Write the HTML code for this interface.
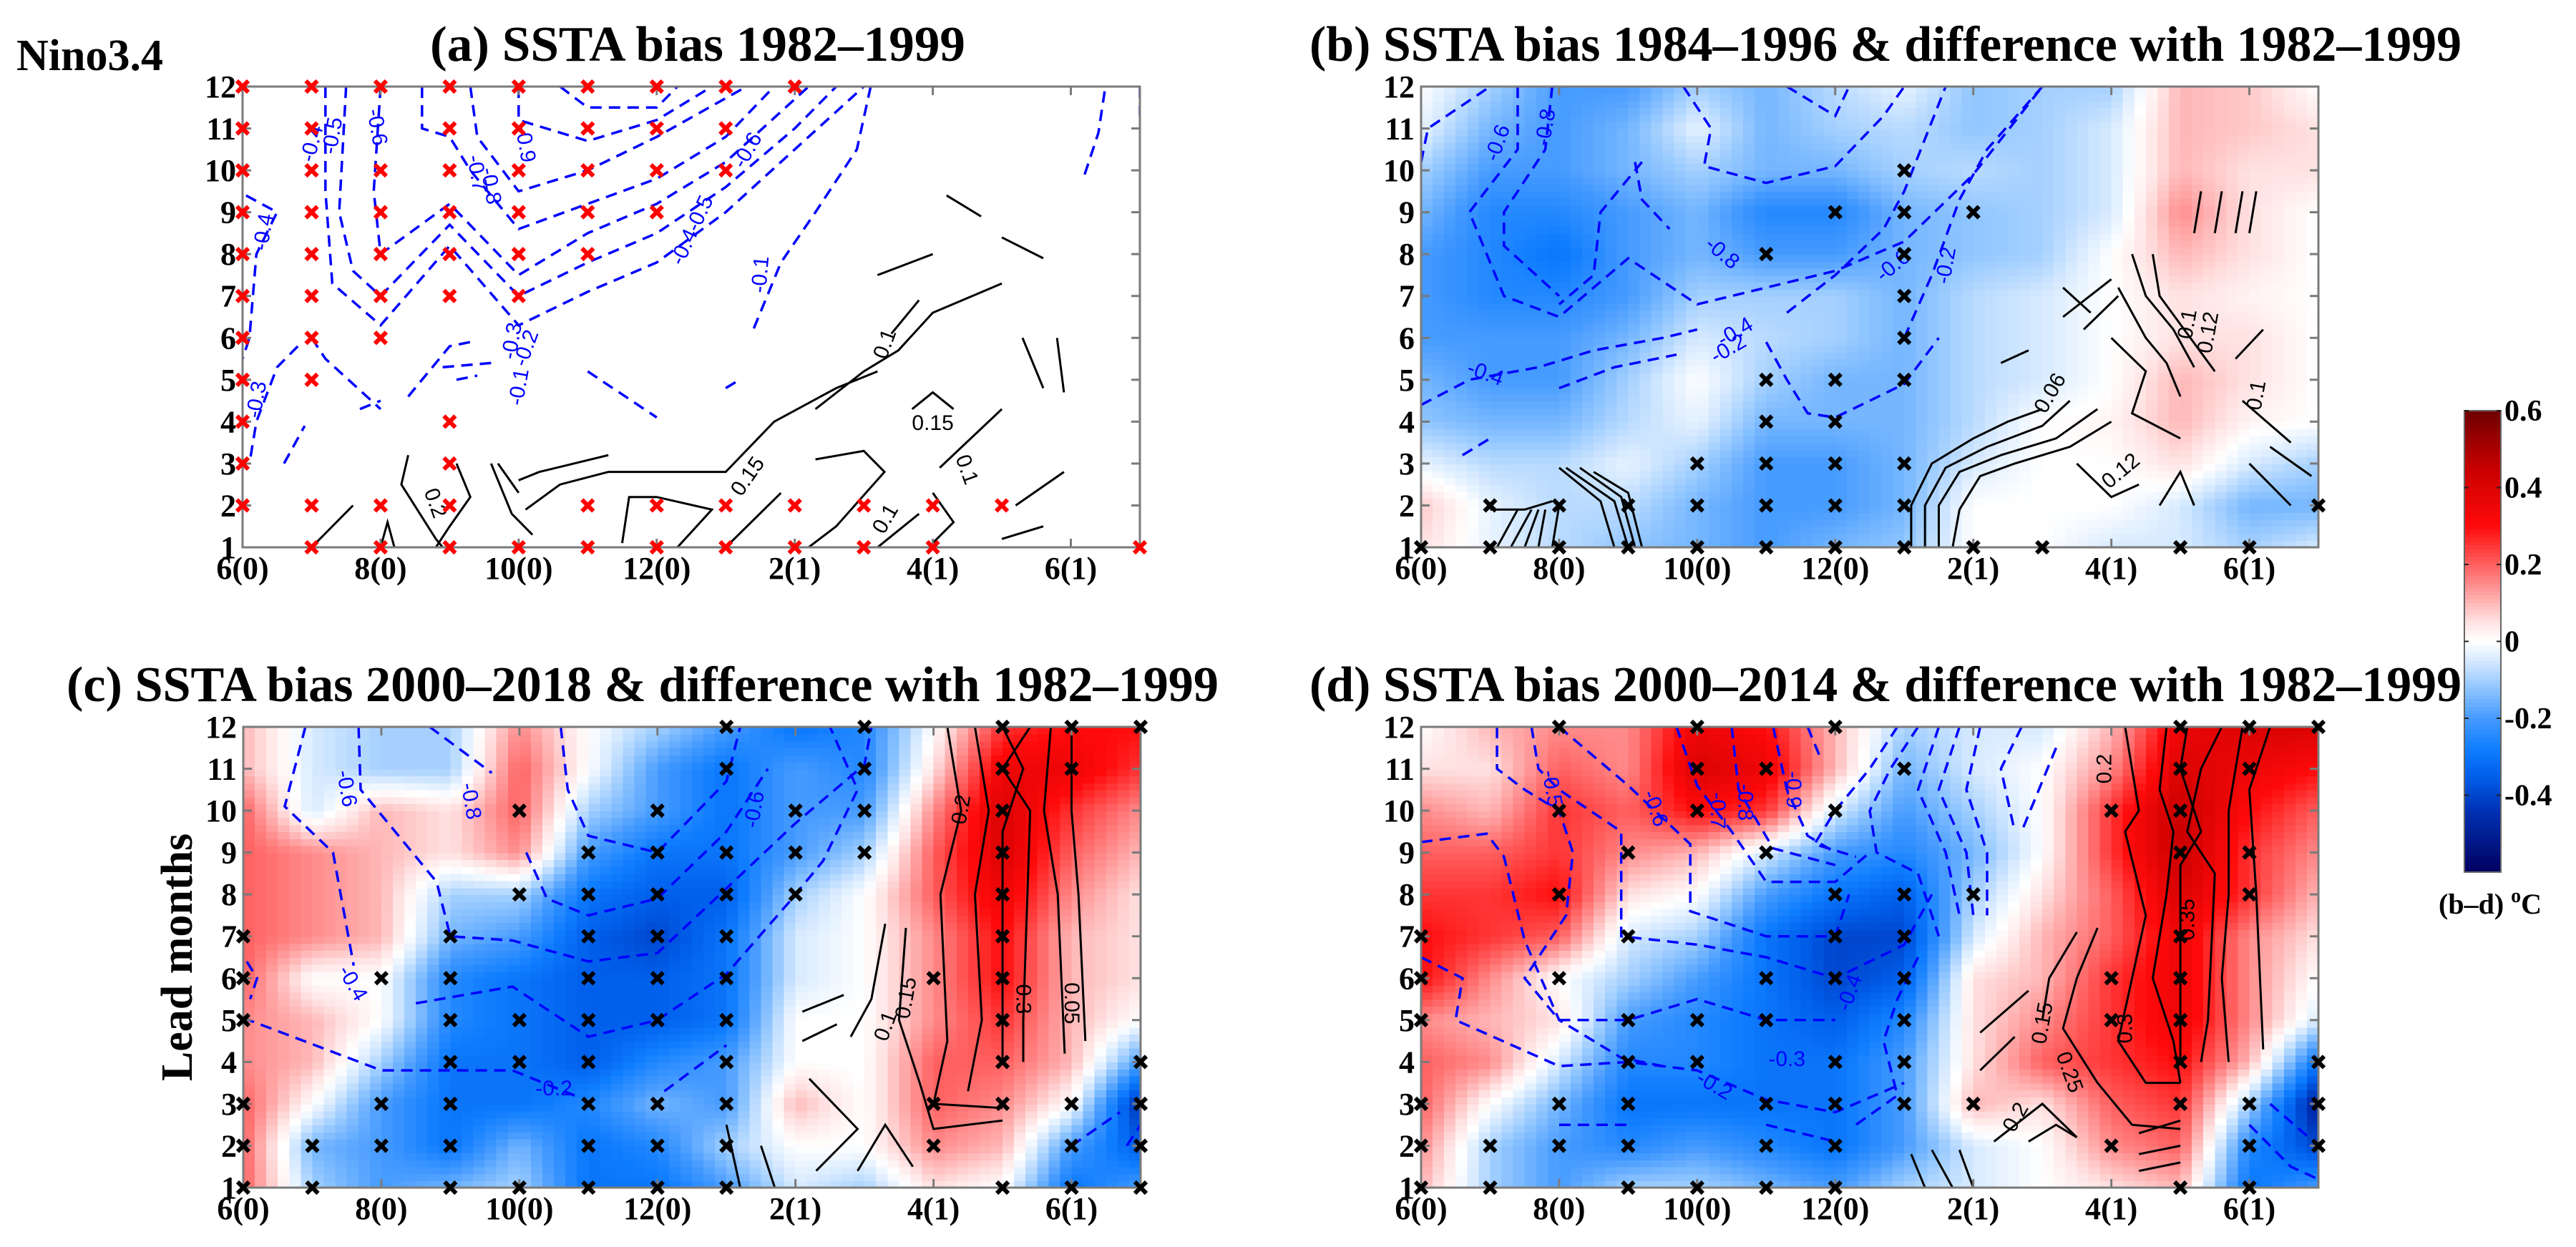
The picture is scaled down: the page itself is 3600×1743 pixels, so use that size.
<!DOCTYPE html>
<html>
<head>
<meta charset="utf-8">
<style>
  html,body{margin:0;padding:0;background:#fff;}
  svg{display:block;}
  text{font-family:"Liberation Serif","DejaVu Serif",serif;font-weight:bold;fill:#000;}
</style>
</head>
<body>
<svg id="fig" xmlns="http://www.w3.org/2000/svg" width="3600" height="1743" viewBox="0 0 3600 1743">
  <rect x="0" y="0" width="3600" height="1743" fill="#fff"/>
  <text x="23" y="98" font-size="62">Nino3.4</text>
  <text x="601" y="85" font-size="70" textLength="748" lengthAdjust="spacingAndGlyphs">(a) SSTA bias 1982–1999</text>
  <text x="1830" y="85" font-size="70" textLength="1610" lengthAdjust="spacingAndGlyphs">(b) SSTA bias 1984–1996 &amp; difference with 1982–1999</text>
  <text x="93" y="980" font-size="70" textLength="1610" lengthAdjust="spacingAndGlyphs">(c) SSTA bias 2000–2018 &amp; difference with 1982–1999</text>
  <text x="1830" y="980" font-size="70" textLength="1610" lengthAdjust="spacingAndGlyphs">(d) SSTA bias 2000–2014 &amp; difference with 1982–1999</text>
  <text transform="translate(268,1338) rotate(-90)" text-anchor="middle" font-size="62">Lead months</text>
  <g id="panels"></g>
  <g id="colorbar"></g>
</svg>
<script>
// ---------- data ----------
const monthCategories = ['6(0)','7(0)','8(0)','9(0)','10(0)','11(0)','12(0)','1(1)','2(1)','3(1)','4(1)','5(1)','6(1)','7(1)'];
const xTickLabels = ['6(0)','8(0)','10(0)','12(0)','2(1)','4(1)','6(1)'];
const xTickCols = [0,2,4,6,8,10,12];
const leadCategories = [1,2,3,4,5,6,7,8,9,10,11,12];
const cbarTicks = [0.6,0.4,0.2,0,-0.2,-0.4];
const cbarTickLabels = ['0.6','0.4','0.2','0','-0.2','-0.4'];

// shading grids: one array per month column, values for lead 1..12
const diffB = [
[0.05,0.08,-0.03,-0.12,-0.15,-0.2,-0.2,-0.2,-0.15,-0.1,-0.03,0],
[-0.03,-0.03,-0.08,-0.15,-0.2,-0.2,-0.25,-0.25,-0.25,-0.2,-0.15,-0.1],
[-0.08,-0.08,-0.08,-0.15,-0.2,-0.2,-0.25,-0.3,-0.25,-0.2,-0.2,-0.2],
[-0.12,-0.08,-0.03,-0.08,-0.1,-0.15,-0.2,-0.2,-0.2,-0.15,-0.15,-0.2],
[-0.15,-0.15,-0.1,-0.03,0,-0.05,-0.1,-0.15,-0.15,-0.1,-0.03,-0.1],
[-0.2,-0.2,-0.2,-0.15,-0.1,-0.08,-0.1,-0.2,-0.25,-0.15,-0.15,-0.15],
[-0.15,-0.2,-0.2,-0.15,-0.15,-0.1,-0.1,-0.2,-0.25,-0.15,-0.1,-0.08],
[-0.12,-0.15,-0.15,-0.15,-0.15,-0.15,-0.15,-0.15,-0.15,-0.1,-0.08,-0.03],
[0,0,-0.05,-0.08,-0.08,-0.08,-0.08,-0.12,-0.12,-0.08,-0.12,-0.12],
[0,0,0,0,-0.05,-0.05,-0.05,-0.1,-0.1,-0.1,-0.1,-0.1],
[-0.05,0,0,0.02,0,0,0,0,-0.05,-0.05,-0.05,-0.1],
[-0.05,-0.05,0.05,0.1,0.1,0.05,0.05,0.1,0.15,0.1,0.1,0.1],
[-0.1,-0.15,-0.05,0.02,0.05,0.05,0.02,0.05,0.05,0.05,0.08,0.08],
[-0.05,-0.15,-0.1,0,0,0,0,0,0,0.05,0.05,0]
];
const diffC = [
[0.2,0.2,0.2,0.15,0.15,0.2,0.2,0.2,0.2,0.2,0.1,0.1],
[-0.1,-0.15,0,0.1,0.1,0,0.15,0.15,0.15,-0.05,-0.05,-0.05],
[-0.2,-0.2,-0.2,-0.1,0,0,0.1,0.1,0.1,0.1,-0.1,-0.1],
[-0.15,-0.3,-0.3,-0.3,-0.25,-0.25,-0.15,-0.1,0.05,0.05,-0.1,-0.1],
[-0.1,-0.15,-0.3,-0.3,-0.3,-0.3,-0.2,-0.1,0.15,0.2,0.2,0.15],
[-0.3,-0.3,-0.25,-0.35,-0.35,-0.35,-0.35,-0.3,-0.2,-0.1,0,0],
[-0.3,-0.25,-0.15,-0.25,-0.35,-0.35,-0.4,-0.35,-0.3,-0.2,-0.2,-0.1],
[-0.2,-0.1,-0.2,-0.2,-0.3,-0.3,-0.3,-0.35,-0.3,-0.3,-0.3,-0.2],
[-0.05,0,0.1,0,0,-0.05,-0.05,-0.1,-0.2,-0.2,-0.2,-0.3],
[-0.1,0,0,0,0,0,0,0,-0.1,-0.2,-0.25,-0.25],
[0.05,0.15,0.2,0.2,0.15,0.15,0.15,0.2,0.2,0.15,0.05,0],
[0,0.1,0.15,0.2,0.25,0.3,0.3,0.35,0.4,0.4,0.35,0.25],
[-0.3,-0.2,0,0.1,0.1,0.1,0.1,0.15,0.2,0.25,0.35,0.3],
[-0.2,-0.35,-0.45,-0.2,0,0.05,0.05,0.05,0.1,0.15,0.25,0.3]
];
const diffD = [
[0.1,0.15,0.2,0.2,0.15,0.3,0.3,0.25,0.2,0.15,0.05,0],
[-0.1,-0.1,0,0.15,0.1,0.15,0.25,0.25,0.2,0.1,0.05,0.1],
[-0.2,-0.2,-0.15,-0.05,0.05,0,0.2,0.3,0.25,0.25,0.2,0.15],
[-0.1,-0.25,-0.3,-0.25,-0.2,-0.1,-0.05,0.05,0.15,0.2,0.15,0.15],
[-0.1,-0.2,-0.3,-0.25,-0.25,-0.2,-0.1,0,0.1,0.3,0.4,0.35],
[-0.15,-0.25,-0.3,-0.3,-0.3,-0.3,-0.3,-0.2,-0.05,0.25,0.35,0.3],
[-0.2,-0.3,-0.3,-0.3,-0.35,-0.4,-0.4,-0.3,-0.2,-0.05,0.1,0.1],
[-0.1,-0.2,-0.2,-0.2,-0.25,-0.35,-0.4,-0.35,-0.25,-0.2,-0.15,-0.1],
[-0.05,-0.05,0.1,0.05,0.05,0.05,-0.05,-0.1,-0.15,-0.1,-0.05,-0.05],
[0,0,0.05,0.2,0.15,0.1,0.1,0.05,0,0,0,-0.05],
[0.05,0.15,0.2,0.25,0.25,0.25,0.2,0.2,0.25,0.25,0.15,0.1],
[0.1,0.2,0.25,0.3,0.35,0.35,0.35,0.4,0.45,0.45,0.4,0.35],
[-0.3,-0.25,-0.1,0.1,0.15,0.15,0.15,0.25,0.25,0.3,0.35,0.4],
[-0.2,-0.4,-0.5,-0.3,-0.05,0,0.05,0.1,0.15,0.2,0.3,0.4]
];

// significance markers: [month column, lead]
const sigA = [[0,12],[1,12],[2,12],[3,12],[4,12],[5,12],[6,12],[7,12],[8,12],
[0,11],[1,11],[3,11],[4,11],[5,11],[6,11],[7,11],
[0,10],[1,10],[2,10],[3,10],[4,10],[5,10],[6,10],[7,10],
[0,9],[1,9],[2,9],[3,9],[4,9],[5,9],[6,9],
[0,8],[1,8],[2,8],[3,8],[4,8],[5,8],
[0,7],[1,7],[2,7],[3,7],[4,7],
[0,6],[1,6],[2,6],[0,5],[1,5],[0,4],[3,4],[0,3],[3,3],
[0,2],[1,2],[2,2],[3,2],[5,2],[6,2],[7,2],[8,2],[9,2],[10,2],[11,2],
[1,1],[2,1],[3,1],[4,1],[5,1],[6,1],[7,1],[8,1],[9,1],[10,1],[13,1]];
const sigB = [[0,1],[1,1],[2,1],[3,1],[4,1],[5,1],[6,1],[7,1],[8,1],[9,1],[11,1],[12,1],
[1,2],[2,2],[3,2],[4,2],[5,2],[6,2],[7,2],[13,2],
[4,3],[5,3],[6,3],[7,3],[5,4],[6,4],[5,5],[6,5],[7,5],[7,6],[7,7],[5,8],[7,8],[6,9],[7,9],[8,9],[7,10]];
const sigC = [[0,1],[1,1],[3,1],[4,1],[5,1],[6,1],[7,1],[11,1],[12,1],[13,1],
[0,2],[1,2],[2,2],[3,2],[5,2],[6,2],[7,2],[10,2],[12,2],[13,2],
[0,3],[2,3],[3,3],[5,3],[6,3],[7,3],[10,3],[11,3],[12,3],[13,3],
[3,4],[4,4],[5,4],[7,4],[11,4],[13,4],
[0,5],[3,5],[4,5],[5,5],[6,5],[7,5],[11,5],
[0,6],[2,6],[3,6],[5,6],[6,6],[7,6],[10,6],[11,6],
[0,7],[3,7],[5,7],[6,7],[7,7],[11,7],
[4,8],[5,8],[6,8],[7,8],[8,8],[11,8],
[5,9],[6,9],[7,9],[8,9],[9,9],[11,9],
[4,10],[6,10],[8,10],[9,10],[11,10],
[7,11],[9,11],[11,11],[12,11],[7,12],[9,12],[11,12],[12,12],[13,12]];
const sigD = [[0,1],[1,1],[3,1],[4,1],[5,1],[6,1],[11,1],[12,1],
[0,2],[1,2],[2,2],[3,2],[5,2],[6,2],[10,2],[12,2],[13,2],
[0,3],[2,3],[3,3],[5,3],[6,3],[7,3],[8,3],[11,3],[12,3],[13,3],
[3,4],[4,4],[6,4],[7,4],[11,4],[13,4],
[0,5],[3,5],[4,5],[5,5],[7,5],[10,5],[11,5],
[0,6],[2,6],[5,6],[6,6],[7,6],[10,6],[11,6],
[0,7],[3,7],[6,7],[7,7],[11,7],
[2,8],[6,8],[7,8],[8,8],[12,8],
[3,9],[5,9],[11,9],[12,9],
[2,10],[4,10],[6,10],[10,10],[11,10],
[4,11],[5,11],[7,11],[11,11],[12,11],
[2,12],[4,12],[6,12],[11,12],[12,12],[13,12]];

// contour lines in data coordinates [month column, lead]
const negA = [
[[0.05,9.4],[0.5,9],[0.2,8],[0.1,6],[0,5.5]],
[[0.8,5.8],[0.5,5.3],[0.2,4],[0.1,3]],
[[0.6,3],[0.9,3.9]],[[1.7,4.3],[2,4.5]],
[[1.2,12],[1.2,9.5],[1.3,7.3],[2,6.3],[3,8.2],[4,6.3],[5,7.1],[6,7.8],[7,9],[8,10.5],[9,12]],
[[1.5,12],[1.4,9],[1.6,7.6],[2,7],[3,8.7],[4,7],[5,7.8],[6,8.5],[7,9.6],[8,11],[8.6,12]],
[[2,12],[1.9,9.5],[2,8],[3,9.2],[4,7.5],[5,8.5],[6,9.2],[7,10.2],[8.2,12]],
[[2.6,12],[2.6,11],[3,10.8],[3.3,10],[4,8.6],[5,9.2],[6,9.8],[7,10.8],[7.7,12]],
[[3.3,12],[3.4,10.8],[4,9.5],[5,10],[6,10.8],[7.3,12]],
[[4,12],[4,11.2],[5,10.7],[6,11.2],[6.8,12]],
[[4.6,12],[5,11.5],[6,11.5],[6.3,12]],
[[9.1,12],[8.9,10.5],[8.3,9],[7.8,7.8],[7.4,6.2]],
[[1,6],[1.2,5.5],[2,4.3]],
[[2.4,4.6],[3,5.8],[3.3,5.9]],[[2.9,5.3],[3.6,5.4]],[[3.1,5],[3.4,5.1]],
[[5,5.2],[6,4.1]],[[7,4.8],[7.2,5]],
[[12.2,9.9],[12.4,10.9],[12.5,12]],[[13,12],[13,11.2]]
];
const posA = [
[[8.3,4.3],[9,5.2],[9.5,5.7],[10,6.6],[11,7.3]],
[[4,2.6],[4.3,2.8],[5.3,3.2]],
[[4.1,1.9],[4.6,2.5],[5.3,2.8],[7,2.8],[7.7,4],[8.6,4.8],[9.2,5.2]],
[[8.3,3.1],[9,3.3],[9.3,2.8],[8.6,1.5],[8.2,1]],
[[2.4,3.2],[2.3,2.5],[2.8,1.2],[2.9,1]],
[[3.1,3],[3.3,2.2],[3,1.5],[2.8,1]],
[[3.6,3],[3.9,1.8],[4.2,1.3]],[[3.7,3],[4,2.3]],
[[1,1],[1.6,2]],[[2,1],[2.1,1.6],[2.2,1]],[[5.5,1.1],[5.6,2.2],[6,2.2],[6.8,1.9],[6.3,1]],
[[7,1],[7.8,2.3]],[[9.2,1],[9.8,1.8]],[[10,1.1],[10.3,1.6],[10,2.3]],
[[10.1,2.9],[11,4.3]],[[11.9,2.8],[11.2,2]],[[11,1.2],[11.6,1.5]],
[[11.3,6],[11.6,4.8]],[[11.8,6],[11.9,4.7]],[[9.2,7.5],[10,8]],[[11,8.4],[11.6,7.9]],
[[9.7,4.3],[10,4.7],[10.3,4.3]],[[9.4,6.1],[9.8,6.9]],[[10.2,9.4],[10.7,8.9]]
];
const negB = [
[[0,10.2],[0.1,11],[1,12]],
[[1.4,12],[1.4,10.5],[0.7,9],[1.2,7],[2,6.5],[3,7.9],[4,6.8],[5,7.2],[6,7.6],[7,8.3],[8,9.9],[9,12]],
[[2.1,12],[3,12.1]],
[[1.9,12],[1.8,10.5],[1.2,9],[1.2,8.2],[2,7.0]],
[[3.1,10.2],[3.2,9.3],[3.6,8.6]],
[[3.2,10.2],[2.6,9],[2.5,7.5],[2,6.8]],
[[3.8,12],[4.2,11],[4.1,10.1],[5,9.7],[6,10.1],[6.7,11.3],[7,12]],
[[5.3,12],[6,11.3],[6.2,12]],
[[5.3,6.6],[6,7.5],[6.7,8.6],[7,9.5],[7.6,12]],
[[7,6],[7.4,7.5],[7.8,9.3],[8.2,10.5],[9,12]],
[[0,4.4],[0.7,5],[1.7,5.3],[2.5,5.7],[3.5,6],[4,6.2]],
[[2,4.8],[2.8,5.3],[3.7,5.6]],
[[5,5.9],[5.3,5],[5.6,4.2],[6,4.1],[7,4.9],[7.5,6]],
[[0.6,3.2],[1,3.6]]
];
const posB = [
[[1,1.9],[1.5,1.9],[1.9,2.1]],[[1.1,1],[1.4,1.9]],[[1.3,1],[1.6,1.9]],[[1.5,1],[1.7,1.9]],[[1.7,1],[1.8,1.9]],[[1.9,1],[2,2]],
[[2,2.9],[2.6,2.1],[2.8,1]],[[2.1,2.9],[2.8,2.1],[3,1]],[[2.3,2.9],[2.9,2.2],[3.1,1]],[[2.5,2.8],[3,2.3],[3.2,1]],
[[7.1,1],[7.1,2],[7.4,3],[8,3.6],[8.5,4],[9,4.3]],[[7.3,1],[7.3,2],[7.6,2.9],[8.2,3.4],[9,3.9],[9.4,4.5]],
[[7.5,1],[7.5,2],[7.8,2.8],[8.4,3.2],[9.2,3.6],[9.8,4.3]],[[7.7,1],[7.8,1.9],[8.1,2.7],[8.6,3],[9.4,3.4],[10,4]],
[[8.8,5.7],[8.4,5.4]],[[9.3,7.2],[9.7,6.6]],[[9.3,6.5],[10,7.4]],[[9.6,6.2],[10.1,7]],
[[10,6],[10.5,5.2],[10.3,4.2],[11,3.6]],[[10.1,7.2],[10.5,6],[10.8,5.4],[11,4.6]],
[[10.3,8],[10.5,7],[10.9,6.2],[11.2,5.3]],[[10.6,8],[10.7,7],[11.1,6.1],[11.5,5.2]],
[[11.2,8.5],[11.3,9.5]],[[11.5,8.5],[11.6,9.5]],[[11.8,8.5],[11.9,9.5]],[[12,8.5],[12.1,9.5]],
[[11.8,5.5],[12.2,6.2]],[[11.9,4.5],[12.6,3.5]],[[12,3],[12.6,2]],[[12.3,3.4],[12.9,2.7]],
[[9.5,3],[10,2.2],[10.4,2.5]],[[10.7,2],[11,2.8],[11.2,2]]
];
const negC = [
[[0.9,12],[0.6,10.1],[1.3,9],[1.6,6.3]],
[[1.67,12],[1.7,10.5],[2.8,8.3],[3,7],[3.9,6.9],[5,6.4],[6,6.6],[7.1,8.3],[8,9.7],[9,11.1],[9.1,12]],
[[2.7,12],[3.6,10.9]],
[[4.6,12],[4.7,10.5],[5,9.4],[6,9],[7,10.7],[7.2,12]],
[[4.1,9],[4.4,7.9],[5,7.5],[6,7.9],[7,9.5],[7.6,11]],
[[0,5.05],[2,3.8],[3.9,3.8],[4.8,3.2]],[[6.1,3.3],[7,4.4]],
[[2.5,5.4],[3.9,5.8],[5,4.6],[6,5.0],[7,6.1],[7.9,7.8],[8.4,8.8],[8.9,10.5],[8.5,12]],
[[0.05,6.4],[0.2,6],[0.1,5.5]],
[[12,2],[12.7,2.8]],[[12.8,2],[13,2.5]]
];
const posC = [
[[10.2,12],[10.4,10],[10.1,8],[10.2,4.5],[10,3],[11,2.9]],
[[10.6,12],[10.8,10],[10.6,8],[10.7,5],[10.5,3.3]],
[[11,12],[11.3,11],[11,9.5],[11,4]],
[[11.4,12],[11,11],[11.4,10],[11.3,5],[11.3,4]],
[[11.7,12],[11.6,10],[11.8,8],[11.9,4.2]],
[[12,12],[12,10],[12.1,8],[12.2,4.5]],
[[9.3,7.3],[9.1,5.5],[8.8,4.6]],
[[9.6,7.2],[9.5,5],[9.8,3.5],[10,2.4],[11,2.6]],
[[8.2,3.6],[8.9,2.4],[8.3,1.4]],[[8.9,1.4],[9.3,2.5],[9.7,1.5]],
[[7.2,1],[7,2.5]],[[7.7,1],[7.5,2]],[[8.1,5.2],[8.7,5.6]],[[8.1,4.5],[8.6,4.9]]
];
const negD = [
[[0,9.25],[0.95,9.45],[1.2,8.9],[1.5,6.9],[2,5],[2.9,4.1],[3.5,3.9]],
[[0,6.5],[0.6,6],[0.5,5],[2,3.9],[3,4],[4,3.8],[5,3.1],[6,2.8],[7,3.5]],
[[1.1,12],[1.1,11],[1.5,10.5],[2,10],[2.2,9],[2.1,7.5],[1.5,6],[2,5],[3,5],[4,5.5],[5,5],[6,5]],
[[1.6,12],[1.7,11],[2,10.5],[2.9,9.5],[2.9,7],[4,6.8],[5,6.5],[6,6],[7,6.8],[7.4,8]],
[[2,12],[3,10.6],[3.9,9.2],[3.9,7.6],[5,7],[6,7],[6.2,8]],
[[3.7,12],[4,10.6],[4.5,9.5],[5,8.3],[6,8.3],[6.5,9]],
[[4.5,12],[4.6,10.5],[5.1,9.1],[6,8.7]],
[[5.1,12],[5.3,10.5],[5.6,9.4],[6,9]],
[[5.6,12],[5.8,11.2]],
[[6.9,12],[6.5,11],[6,10],[5.7,9.2],[6.3,8.9]],
[[7.2,12],[6.8,11],[6.5,10],[6.6,9],[7.2,8.5],[7.5,7]],
[[7.5,12],[7.2,10.5],[7.6,9],[7.8,7.5]],[[7.8,12],[7.5,10.5],[7.9,9],[8,7.5]],
[[8.1,12],[7.9,10.5],[8.2,9],[8.2,7.5]],[[8.7,12],[8.4,11],[8.6,9.5]],[[9.2,11.5],[8.7,9.5]],
[[7.2,6.5],[6.9,5.5],[6.7,4.5],[6.9,3.2],[6.3,2.5]],
[[5,2.5],[6,2.1]],[[2,2.5],[3,2.5]],
[[12,2.5],[12.6,1.5],[13,1.2]],[[12.3,3],[13,2],[13,1.5]]
];
const posD = [
[[10.2,12],[10.4,10],[10.2,9.5],[10.5,7.5],[10.3,6],[10.1,4.5],[10.5,3.5],[11,3.5]],
[[10.8,12],[10.7,10.5],[10.9,9.5],[10.8,8],[10.6,6],[10.9,4.5],[11,3.5]],
[[11.1,12],[11,11],[11.3,9.5],[11,8.7],[11,4]],
[[11.6,12],[11.3,11],[11.1,9.5],[11.5,8.5],[11.4,5],[11.3,4]],
[[11.9,12],[11.7,10],[11.7,8],[11.6,6],[11.7,4]],
[[12.3,12],[12,10.5],[12.1,8],[12.2,4.3]],
[[9.5,7.1],[9.1,6],[9,5]],
[[9.8,7.2],[9.5,6],[9.3,4.8],[9.8,3.5],[10.3,2.5],[11,2.4]],
[[8.1,4.7],[8.8,5.7]],[[8.1,3.8],[8.6,4.6]],
[[8.3,2.1],[9,3],[9.5,2.2]],[[8.8,2.1],[9.2,2.5],[9.5,2.2]],
[[7.1,1.8],[7.3,1]],[[7.4,1.9],[7.7,1]],[[7.8,1.9],[8,1]],
[[10.4,1.4],[11,1.6]],[[10.4,1.8],[11,2]],[[10.4,2.3],[11,2.6]]
];
// contour labels: [col, lead, text, rotation]
const labelsA = [[1.1,10.6,'-0.4',-75],[1.4,10.8,'-0.5',-80],[1.85,11,'-0.6',80],[3.3,9.9,'-0.7',80],[3.5,9.6,'-0.8',80],[4,10.6,'-0.9',80],[7.4,10.4,'-0.6',-60],[6.6,8.5,'-0.4-0.5',-65],[7.6,7.5,'-0.1',-85],[4,5.9,'-0.3',-80],[4.2,5.7,'-0.2',-70],[4.1,4.8,'-0.1',-80],[0.4,8.5,'-0.4',-80],[0.3,4.5,'-0.3',-80],[9.4,5.8,'0.1',-70],[10,3.8,'0.15',0],[10.4,2.8,'0.1',70],[7.4,2.6,'0.15',-55],[9.4,1.6,'0.1',-60],[2.7,2,'0.2',70]];
const labelsB = [[1.2,10.6,'-0.6',-70],[1.9,11,'-0.8',-80],[4.3,7.9,'-0.8',40],[6.9,7.6,'-0.6',-40],[4.6,6,'-0.4',-30],[4.5,5.6,'-0.2',-30],[0.9,5,'-0.4',20],[7.7,7.7,'-0.2',-80],[11.2,6.3,'0.1',-80],[11.5,6.1,'0.12',-80],[12.2,4.6,'0.1',-80],[9.2,4.6,'0.06',-60],[10.2,2.7,'0.12',-40]];
const labelsC = [[1.4,10.5,'-0.6',80],[3.2,10.2,'-0.8',80],[7.5,10,'-0.6',-80],[1.5,5.8,'-0.4',60],[4.5,3.2,'-0.2',0],[10.5,10,'0.2',-80],[9.4,4.8,'0.1',-70],[9.7,5.5,'0.15',-80],[11.2,5.5,'0.3',90],[11.9,5.4,'0.05',90]];
const labelsD = [[1.8,10.5,'-0.5',80],[3.3,10,'-0.6',70],[4.2,10,'-0.7',90],[4.6,10.2,'-0.8',90],[5.3,10.5,'-0.9',90],[6.3,5.6,'-0.4',-70],[5.3,3.9,'-0.3',0],[4.2,3.3,'-0.2',30],[9.1,4.9,'0.15',-80],[10,11,'0.2',-90],[9.3,3.7,'0.25',70],[8.7,2.6,'0.2',-60],[11.2,7.4,'0.35',-90],[10.3,4.8,'0.3',-90]];

// ---------- layout ----------
const NS = 'http://www.w3.org/2000/svg';
const PW = 1254, PH = 644;
const panels = [
  {id:'a', left:339, top:121, grid:null, sig:sigA, sigColor:'#ff0000', neg:negA, pos:posA, labels:labelsA},
  {id:'b', left:1986, top:121, grid:diffB, sig:sigB, sigColor:'#000', neg:negB, pos:posB, labels:labelsB},
  {id:'c', left:340, top:1016, grid:diffC, sig:sigC, sigColor:'#000', neg:negC, pos:posC, labels:labelsC},
  {id:'d', left:1986, top:1016, grid:diffD, sig:sigD, sigColor:'#000', neg:negD, pos:posD, labels:labelsD}
];
const cmapStops = [[-0.6,[0,0,95]],[-0.45,[0,45,175]],[-0.35,[0,95,235]],[-0.28,[15,125,255]],[-0.2,[70,155,255]],[-0.12,[145,198,255]],[-0.05,[215,234,255]],[0,[255,255,255]],[0.05,[255,226,226]],[0.12,[255,165,165]],[0.2,[255,95,95]],[0.3,[255,10,10]],[0.45,[200,0,0]],[0.6,[110,0,0]]];
function cmap(v){
  if(v<=cmapStops[0][0]) return 'rgb('+cmapStops[0][1].join(',')+')';
  for(let i=1;i<cmapStops.length;i++){
    if(v<=cmapStops[i][0]){
      const a=cmapStops[i-1], b=cmapStops[i], t=(v-a[0])/(b[0]-a[0]);
      return 'rgb('+a[1].map((c,k)=>Math.round(c+(b[1][k]-c)*t)).join(',')+')';
    }
  }
  return 'rgb('+cmapStops[cmapStops.length-1][1].join(',')+')';
}
function mk(tag, attrs, parent){
  const e=document.createElementNS(NS,tag);
  for(const k in attrs) e.setAttribute(k, attrs[k]);
  if(parent) parent.appendChild(e);
  return e;
}
const root=document.getElementById('panels');
const defs=mk('defs',{},root);

panels.forEach(p=>{
  const xs = c => p.left + c*PW/(monthCategories.length-1);
  const ys = l => p.top + PH - (l-leadCategories[0])*PH/(leadCategories.length-1);
  const g = mk('g',{},root);
  
  
  const clip = mk('clipPath',{id:'clip-'+p.id},defs);
  mk('rect',{x:p.left,y:p.top,width:PW,height:PH},clip);

  if(p.grid){
    const hg = mk('g',{'clip-path':'url(#clip-'+p.id+')','shape-rendering':'crispEdges'},g);
    
    
    const S=6;
    const nC=monthCategories.length, nL=leadCategories.length;
    for(let c=0;c<nC-1;c++){
      for(let sc=0;sc<S;sc++){
        const fc=(sc+0.5)/S;
        for(let l=0;l<nL-1;l++){
          for(let sl=0;sl<S;sl++){
            const fl=(sl+0.5)/S;
            const v00=p.grid[c][l], v10=p.grid[c+1][l], v01=p.grid[c][l+1], v11=p.grid[c+1][l+1];
            const v=v00*(1-fc)*(1-fl)+v10*fc*(1-fl)+v01*(1-fc)*fl+v11*fc*fl;
            const x0=xs(c+sc/S), x1=xs(c+(sc+1)/S);
            const y0=ys(leadCategories[l]+(sl+1)/S), y1=ys(leadCategories[l]+sl/S);
            const r=mk('rect',{x:x0.toFixed(1),y:y0.toFixed(1),width:(x1-x0+0.8).toFixed(1),height:(y1-y0+0.8).toFixed(1),fill:cmap(v)},hg);
            
            
          }
        }
      }
    }
  }

  const cg = mk('g',{'clip-path':'url(#clip-'+p.id+')',fill:'none'},g);
  
  
  p.neg.forEach(line=>{
    const e=mk('polyline',{points:line.map(q=>xs(q[0]).toFixed(1)+','+ys(q[1]).toFixed(1)).join(' '),stroke:'#0000ff','stroke-width':3.5,'stroke-dasharray':'16,10'},cg);
    
    
  });
  p.pos.forEach(line=>{
    const e=mk('polyline',{points:line.map(q=>xs(q[0]).toFixed(1)+','+ys(q[1]).toFixed(1)).join(' '),stroke:'#000','stroke-width':3},cg);
    
    
  });
  p.labels.forEach(lb=>{
    const neg = lb[2].charAt(0)==='-';
    const t=mk('text',{x:xs(lb[0]).toFixed(1),y:ys(lb[1]).toFixed(1),'font-size':30,'text-anchor':'middle',transform:'rotate('+lb[3]+' '+xs(lb[0]).toFixed(1)+' '+ys(lb[1]).toFixed(1)+')',style:'font-family:"Liberation Sans",sans-serif;font-weight:normal;fill:'+(neg?'#0000ff':'#000')},cg);
    t.textContent=lb[2];
    
    
  });

  const fr=mk('rect',{x:p.left,y:p.top,width:PW,height:PH,fill:'none',stroke:'#7a7a7a','stroke-width':3},g);
  
  

  leadCategories.forEach(l=>{
    const y=ys(l);
    const t1=mk('line',{x1:p.left,x2:p.left+12,y1:y,y2:y,stroke:'#7a7a7a','stroke-width':3},g);
    
    
    const t2=mk('line',{x1:p.left+PW-12,x2:p.left+PW,y1:y,y2:y,stroke:'#7a7a7a','stroke-width':3},g);
    
    
    const tx=mk('text',{x:p.left-9,y:y+15,'font-size':44,'text-anchor':'end'},g);
    tx.textContent=String(l);
    
    
  });
  xTickCols.forEach((c,i)=>{
    const x=xs(c);
    const t1=mk('line',{x1:x,x2:x,y1:p.top+PH,y2:p.top+PH-12,stroke:'#7a7a7a','stroke-width':3},g);
    
    
    const t2=mk('line',{x1:x,x2:x,y1:p.top,y2:p.top+12,stroke:'#7a7a7a','stroke-width':3},g);
    
    
    const tx=mk('text',{x:x,y:p.top+PH+44,'font-size':44,'text-anchor':'middle'},g);
    tx.textContent=xTickLabels[i];
    
    
  });

  const sg=mk('g',{stroke:p.sigColor,'stroke-width':6,'stroke-linecap':'butt'},g);
  
  
  p.sig.forEach(s=>{
    const x=xs(s[0]), y=ys(s[1]), h=8;
    const m=mk('path',{d:'M'+(x-h)+' '+(y-h)+'L'+(x+h)+' '+(y+h)+'M'+(x+h)+' '+(y-h)+'L'+(x-h)+' '+(y+h)},sg);
    
    
  });
});

(function(){
  const cb=document.getElementById('colorbar');
  const cx=3444, cw=51, cTop=574, cBot=1219, vMax=0.6, vMin=-0.6;
  const cy = v => cTop + (vMax - v)/(vMax - vMin)*(cBot - cTop);
  const N=120;
  for(let i=0;i<N;i++){
    const v0=vMax-(i)*(vMax-vMin)/N, v1=vMax-(i+1)*(vMax-vMin)/N;
    const r=mk('rect',{x:cx,y:cy(v0).toFixed(1),width:cw,height:(cy(v1)-cy(v0)+0.8).toFixed(1),fill:cmap((v0+v1)/2),'shape-rendering':'crispEdges'},cb);
    
    
  }
  const fr=mk('rect',{x:cx,y:cTop,width:cw,height:cBot-cTop,fill:'none',stroke:'#666','stroke-width':2},cb);
  
  
  cbarTicks.forEach((v,i)=>{
    const y=cy(v);
    const t1=mk('line',{x1:cx,x2:cx+6,y1:y,y2:y,stroke:'#222','stroke-width':2},cb);
    
    
    const t2=mk('line',{x1:cx+cw-6,x2:cx+cw,y1:y,y2:y,stroke:'#222','stroke-width':2},cb);
    
    
    const tx=mk('text',{x:cx+cw+5,y:y+14,'font-size':42},cb);
    tx.textContent=cbarTickLabels[i];
    
    
  });
  const lab=mk('text',{x:3408,y:1277,'font-size':40},cb);
  lab.textContent='(b–d) ';
  
  
  const sup=mk('tspan',{dy:-16,'font-size':28},lab);
  sup.textContent='o';
  const cu=mk('tspan',{dy:16,'font-size':40},lab);
  cu.textContent='C';
})();
</script>
</body>
</html>
